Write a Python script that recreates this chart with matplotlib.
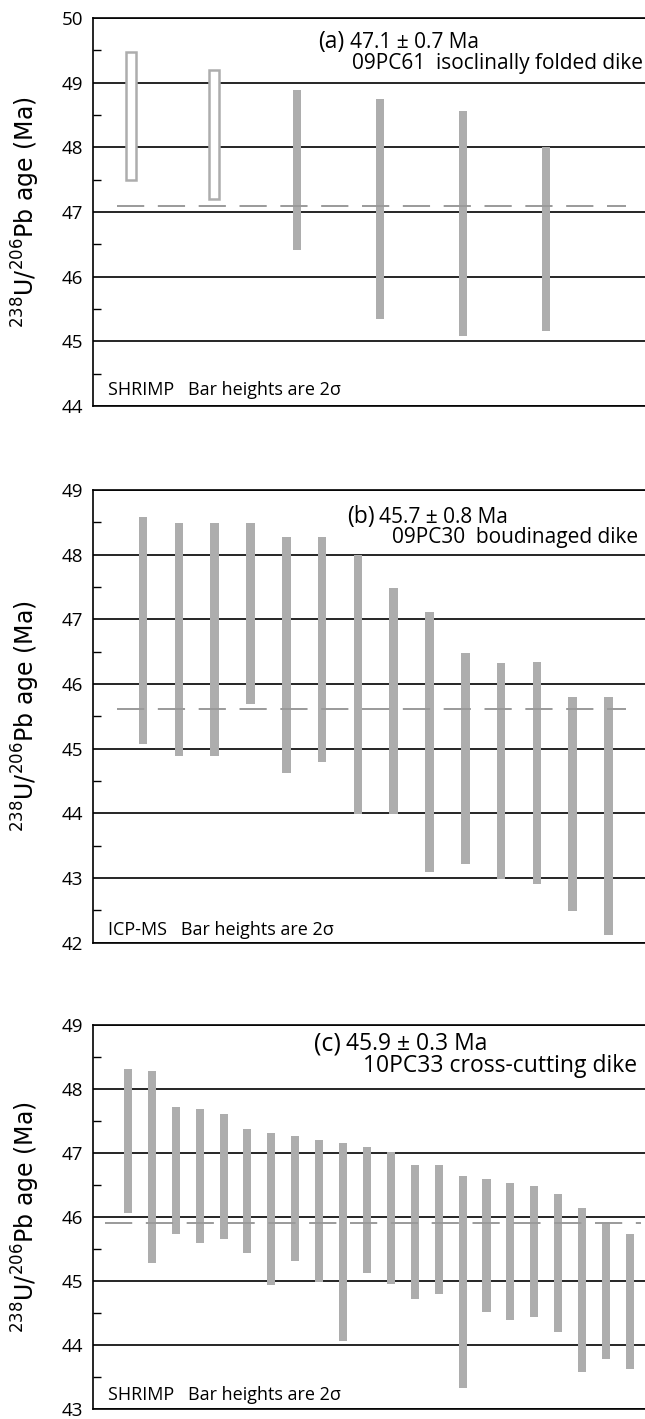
import matplotlib
matplotlib.use('Agg')
import matplotlib.pyplot as plt
from matplotlib.ticker import MultipleLocator

# Datos (edades en Ma, limites de barra 2 sigma)
# (a) 09PC61
a_alto = [49.48, 49.2, 48.89, 48.74, 48.56, 48.0]
a_bajo = [47.5, 47.2, 46.42, 45.34, 45.09, 45.16]
a_hueco = [True, True, False, False, False, False]
a_media = 47.1

# (b) 09PC30
b_alto = [48.59, 48.49, 48.49, 48.49, 48.28, 48.28, 47.99, 47.49, 47.11, 46.48, 46.32, 46.34, 45.8, 45.8]
b_bajo = [45.07, 44.89, 44.89, 45.69, 44.63, 44.8, 43.99, 43.99, 43.1, 43.21, 42.99, 42.9, 42.49, 42.12]
b_hueco = [False] * 14
b_media = 45.62

# (c) 10PC33
c_alto = [48.31, 48.28, 47.72, 47.69, 47.61, 47.37, 47.31, 47.27, 47.2, 47.15, 47.1,
          47.01, 46.82, 46.81, 46.64, 46.59, 46.53, 46.49, 46.36, 46.14, 45.9, 45.74]
c_bajo = [46.06, 45.28, 45.74, 45.6, 45.65, 45.43, 44.93, 45.31, 44.99, 44.06, 45.13,
          44.95, 44.72, 44.8, 43.33, 44.51, 44.39, 44.43, 44.21, 43.58, 43.78, 43.63]
c_hueco = [False] * 22
c_media = 45.9

gris = '#adadad'
gris_linea = '#9a9a9a'
fuente = 'Open Sans'
etiqueta_y = r'$^{238}$U/$^{206}$Pb age (Ma)'

fig = plt.figure(figsize=(6.45, 14.19), dpi=100)


def panel(rect, alto, bajo, hueco, media, ylim, xlim, xguion, ancho,
          letra, edad, muestra, metodo, pos, tam):
    ax = fig.add_axes(rect)
    x = list(range(1, len(alto) + 1))
    alturas = [h - l for h, l in zip(alto, bajo)]
    for xi, l, h, hu in zip(x, bajo, alturas, hueco):
        if hu:
            ax.bar(xi, h, bottom=l, width=ancho * 1.2, facecolor='white',
                   edgecolor=gris, linewidth=1.8, zorder=3)
        else:
            ax.bar(xi, h, bottom=l, width=ancho, color=gris, linewidth=0, zorder=3)
    # Linea de la media ponderada
    ax.plot(xguion, [media, media], color=gris_linea, lw=1.4,
            dashes=(14, 7), zorder=4)

    ax.set_ylim(ylim)
    ax.set_xlim(xlim)
    ax.set_yticks(range(ylim[0], ylim[1] + 1))
    ax.yaxis.set_minor_locator(MultipleLocator(0.5))
    ax.grid(axis='y', which='major', color='black', lw=1.2)
    ax.set_axisbelow(True)
    ax.tick_params(axis='y', which='major', length=0, pad=7, labelsize=13.5)
    ax.tick_params(axis='y', which='minor', direction='in', length=6, width=1)
    ax.set_xticks([])
    for lab in ax.get_yticklabels():
        lab.set_family(fuente)
    ax.spines['right'].set_visible(False)
    for s in ['left', 'top', 'bottom']:
        ax.spines[s].set_linewidth(1.2)

    ax.set_ylabel(etiqueta_y, fontsize=17, family='DejaVu Sans')
    ax.yaxis.set_label_coords(-0.092, 0.5)

    ax.text(pos[0], pos[2], letra, transform=ax.transAxes, fontsize=tam + 1.5,
            family=fuente, va='center', ha='left')
    ax.text(pos[1], pos[2], edad, transform=ax.transAxes, fontsize=tam,
            family=fuente, va='center', ha='left')
    ax.text(pos[3], pos[4], muestra, transform=ax.transAxes, fontsize=tam,
            family=fuente, va='center', ha='right')
    ax.text(0.027, pos[5], metodo, transform=ax.transAxes, fontsize=13,
            family=fuente, va='center', ha='left')
    return ax


panel([0.1442, 0.71388, 0.8558, 0.27343], a_alto, a_bajo, a_hueco, a_media,
      (44, 50), (0.54, 7.19), [0.83, 6.96], 0.096,
      '(a)', '47.1 \u00b1 0.7 Ma', '09PC61  isoclinally folded dike',
      'SHRIMP   Bar heights are 2\u03c3',
      (0.408, 0.466, 0.938, 0.996, 0.884, 0.041), 15)

panel([0.1442, 0.33566, 0.8558, 0.31903], b_alto, b_bajo, b_hueco, b_media,
      (42, 49), (-0.40, 15.02), [0.27, 14.49], 0.24,
      '(b)', '45.7 \u00b1 0.8 Ma', '09PC30  boudinaged dike',
      'ICP-MS   Bar heights are 2\u03c3',
      (0.460, 0.518, 0.940, 0.987, 0.896, 0.028), 15)

panel([0.1442, 0.00705, 0.8558, 0.27061], c_alto, c_bajo, c_hueco, c_media,
      (43, 49), (-0.46, 22.63), [0.04, 22.46], 0.335,
      '(c)', '45.9 \u00b1 0.3 Ma', '10PC33 cross-cutting dike',
      'SHRIMP   Bar heights are 2\u03c3',
      (0.400, 0.458, 0.951, 0.986, 0.892, 0.036), 16.5)

plt.savefig('out.png', dpi=100)
